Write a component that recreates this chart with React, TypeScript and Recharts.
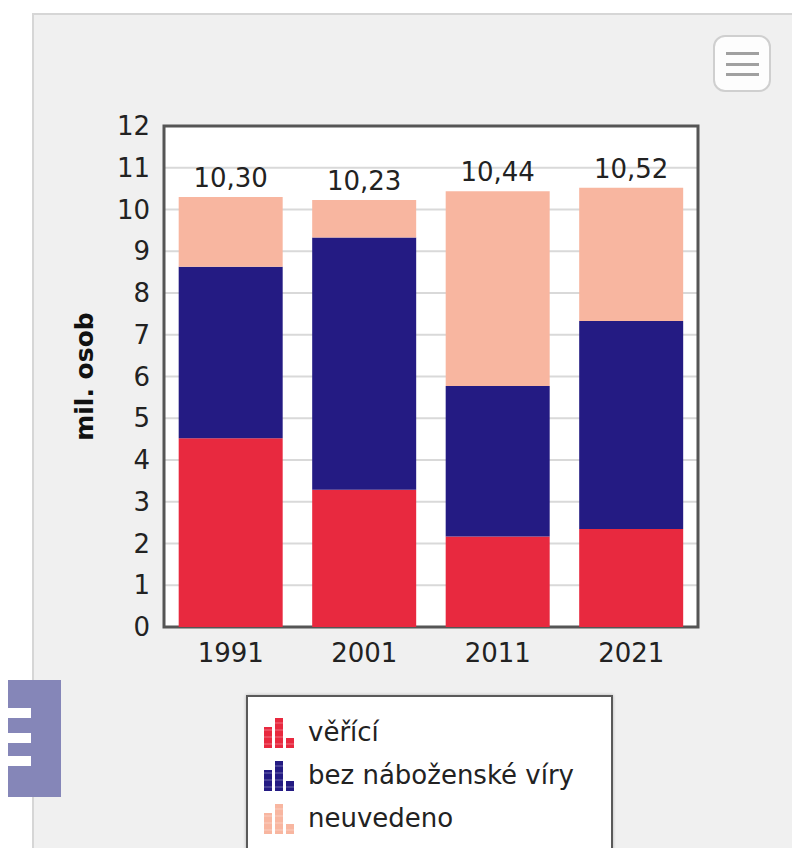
import React from "react";
import {
  BarChart,
  Bar,
  XAxis,
  YAxis,
  CartesianGrid,
  Legend,
  LabelList,
  ReferenceArea,
} from "recharts";

const years = ["1991", "2001", "2011", "2021"];
const vericiValues = [4.52, 3.29, 2.17, 2.35];
const bezViryValues = [4.11, 6.04, 3.6, 4.98];
const neuvedenoValues = [1.67, 0.9, 4.67, 3.19];
const totalLabels = ["10,30", "10,23", "10,44", "10,52"];
const yTicks = [0, 1, 2, 3, 4, 5, 6, 7, 8, 9, 10, 11, 12];
const seriesNames = ["věřící", "bez náboženské víry", "neuvedeno"];
const seriesColors = ["#e8293f", "#241b83", "#f8b6a0"];

const data = years.map((year, i) => ({
  year,
  verici: vericiValues[i],
  bezViry: bezViryValues[i],
  neuvedeno: neuvedenoValues[i],
}));

const FONT = "'DejaVu Sans', Verdana, sans-serif";
const TEXT = "#222";

const LegendIcon = ({ color }: { color: string }) => (
  <svg width={32} height={32} style={{ display: "block" }}>
    <rect x={1} y={10} width={8} height={21} fill={color} />
    <rect x={12} y={1} width={8} height={30} fill={color} />
    <rect x={23} y={21} width={8} height={10} fill={color} />
    {[6, 13, 20, 27].map((y) => (
      <line key={y} x1={0} x2={32} y1={y} y2={y} stroke="#fff" strokeOpacity={0.35} strokeWidth={1} />
    ))}
  </svg>
);

const renderLegend = () => (
  <div
    style={{
      width: 367,
      height: 180,
      background: "#fff",
      border: "2px solid #5a5a5a",
      boxShadow: "0 0 3px rgba(0,0,0,0.25)",
      boxSizing: "border-box",
      paddingTop: 14,
      paddingLeft: 15,
      fontFamily: FONT,
      fontSize: 26,
      color: TEXT,
    }}
  >
    {seriesNames.map((name, i) => (
      <div key={name} style={{ display: "flex", alignItems: "center", height: 43 }}>
        <LegendIcon color={seriesColors[i]} />
        <span style={{ marginLeft: 13, lineHeight: "43px" }}>{name}</span>
      </div>
    ))}
  </div>
);

const renderTotal = (props: any) => {
  const { x, y, width, index } = props;
  return (
    <text
      x={x + width / 2}
      y={y - 19}
      textAnchor="middle"
      dominantBaseline="central"
      fontFamily={FONT}
      fontSize={26}
      fill={TEXT}
    >
      {totalLabels[index]}
    </text>
  );
};

const renderYLabel = (props: any) => {
  const { viewBox } = props;
  const cx = 84;
  const cy = viewBox.y + viewBox.height / 2;
  return (
    <text
      x={cx}
      y={cy}
      transform={`rotate(-90, ${cx}, ${cy})`}
      textAnchor="middle"
      dominantBaseline="central"
      fontFamily={FONT}
      fontSize={25}
      fontWeight="bold"
      fill="#111"
    >
      mil. osob
    </text>
  );
};

export default function App() {
  return (
    <div
      style={{
        position: "absolute",
        left: 0,
        top: 0,
        width: 792,
        height: 848,
        overflow: "hidden",
        background: "#fff",
      }}
    >
      {/* gray panel */}
      <div
        style={{
          position: "absolute",
          left: 32,
          top: 13,
          width: 820,
          height: 900,
          background: "#f0f0f0",
          border: "2px solid #d6d6d6",
        }}
      />
      {/* export menu button */}
      <div
        style={{
          position: "absolute",
          left: 713,
          top: 35,
          width: 58,
          height: 57,
          boxSizing: "border-box",
          background: "#fdfdfd",
          border: "2px solid #cfcfcf",
          borderRadius: 12,
        }}
      >
        {[15, 26, 36].map((t) => (
          <div
            key={t}
            style={{ position: "absolute", left: 11, top: t, width: 33, height: 3, background: "#a0a0a0" }}
          />
        ))}
      </div>
      {/* side tab */}
      <div
        style={{
          position: "absolute",
          left: 8,
          top: 680,
          width: 53,
          height: 117,
          background: "#8586b8",
        }}
      >
        {[28, 53, 76].map((t) => (
          <div
            key={t}
            style={{ position: "absolute", left: 0, top: t, width: 23, height: 10, background: "#fff" }}
          />
        ))}
      </div>
      <div style={{ position: "absolute", left: 0, top: 0 }}>
        <BarChart
          width={792}
          height={848}
          data={data}
          margin={{ top: 126, right: 94, bottom: 171, left: 0 }}
          barCategoryGap="11%"
        >
          <CartesianGrid vertical={false} stroke="#d9d9d9" strokeWidth={2} fill="#fff" />
          <XAxis
            dataKey="year"
            height={50}
            tickSize={0}
            tickMargin={17}
            axisLine={false}
            tick={{ fontFamily: FONT, fontSize: 26, fill: TEXT }}
          />
          <YAxis
            width={164}
            domain={[0, 12]}
            ticks={yTicks}
            interval={0}
            tickSize={0}
            tickMargin={14}
            axisLine={false}
            tick={{ fontFamily: FONT, fontSize: 26, fill: TEXT }}
            label={{ content: renderYLabel }}
          />
          <Bar dataKey="verici" name={seriesNames[0]} stackId="a" fill={seriesColors[0]} isAnimationActive={false} />
          <Bar dataKey="bezViry" name={seriesNames[1]} stackId="a" fill={seriesColors[1]} isAnimationActive={false} />
          <Bar dataKey="neuvedeno" name={seriesNames[2]} stackId="a" fill={seriesColors[2]} isAnimationActive={false}>
            <LabelList dataKey="neuvedeno" content={renderTotal} />
          </Bar>
          <ReferenceArea y1={0} y2={12} fill="none" stroke="#555" strokeWidth={3} ifOverflow="visible" />
          <Legend
            layout="vertical"
            align="center"
            verticalAlign="middle"
            content={renderLegend}
            wrapperStyle={{ top: 695, left: 246, width: 367 }}
          />
        </BarChart>
      </div>
    </div>
  );
}
